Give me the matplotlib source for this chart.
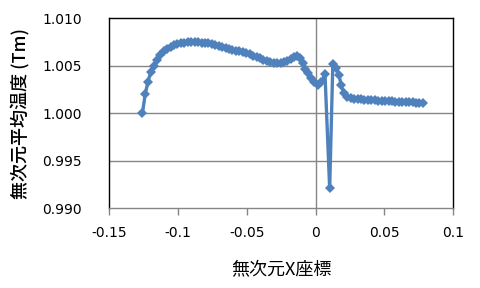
import matplotlib
matplotlib.use("Agg")
import matplotlib.pyplot as plt

x_vals = [-0.1260, -0.1240, -0.1220, -0.1200, -0.1178, -0.1155, -0.1130, -0.1105,
          -0.1080, -0.1055, -0.1030, -0.1005, -0.0980, -0.0955, -0.0930, -0.0905,
          -0.0880, -0.0855, -0.0830, -0.0805, -0.0780, -0.0755, -0.0730, -0.0705,
          -0.0680, -0.0655, -0.0630, -0.0605, -0.0580, -0.0555, -0.0530, -0.0505,
          -0.0480, -0.0455, -0.0430, -0.0405, -0.0380, -0.0355, -0.0330, -0.0305,
          -0.0280, -0.0255, -0.0230, -0.0205, -0.0180, -0.0155, -0.0135, -0.0115,
          -0.0095, -0.0075, -0.0055, -0.0035, -0.0012, 0.0015, 0.0040, 0.0068,
          0.0102, 0.0125, 0.0150, 0.0170, 0.0185, 0.0205, 0.0230, 0.0255,
          0.0280, 0.0305, 0.0330, 0.0355, 0.0380, 0.0405, 0.0430, 0.0455,
          0.0480, 0.0505, 0.0530, 0.0555, 0.0580, 0.0605, 0.0630, 0.0655,
          0.0680, 0.0705, 0.0730, 0.0755, 0.0780]
y_vals = [1.0000, 1.0020, 1.0033, 1.0043, 1.0050, 1.0056, 1.0061, 1.0065,
          1.0068, 1.0070, 1.0072, 1.0073, 1.0074, 1.0074, 1.0075, 1.0075,
          1.0075, 1.0075, 1.0074, 1.0074, 1.0074, 1.0073, 1.0072, 1.0071,
          1.0070, 1.0069, 1.0068, 1.0067, 1.0066, 1.0065, 1.0064, 1.0063,
          1.0062, 1.0060, 1.0059, 1.0058, 1.0056, 1.0055, 1.0054, 1.0053,
          1.0053, 1.0053, 1.0054, 1.0055, 1.0057, 1.0059, 1.0060, 1.0058,
          1.0053, 1.0047, 1.0042, 1.0037, 1.0033, 1.0030, 1.0033, 1.0041,
          0.9921, 1.0052, 1.0048, 1.0040, 1.0030, 1.0021, 1.0017, 1.0016,
          1.0015, 1.0015, 1.0015, 1.0014, 1.0014, 1.0014, 1.0014, 1.0013,
          1.0013, 1.0013, 1.0013, 1.0013, 1.0012, 1.0012, 1.0012, 1.0012,
          1.0012, 1.0012, 1.0011, 1.0011, 1.0011]

x_ticks = [-0.15, -0.1, -0.05, 0, 0.05, 0.1]
x_tick_labels = ["-0.15", "-0.1", "-0.05", "0", "0.05", "0.1"]
y_ticks = [0.990, 0.995, 1.000, 1.005, 1.010]
y_tick_labels = ["0.990", "0.995", "1.000", "1.005", "1.010"]

plt.rcParams['font.family'] = ['Noto Sans CJK JP', 'DejaVu Sans']

fig = plt.figure(figsize=(4.8, 2.88), dpi=100)
ax = fig.add_axes([0.228, 0.2767, 0.716, 0.66])
ax.set_xlim(-0.15, 0.1)
ax.set_ylim(0.990, 1.010)

grid_color = "#868686"
for yv in y_ticks[1:-1]:
    ax.axhline(yv, color=grid_color, lw=1.0, zorder=1)
ax.axvline(0, color=grid_color, lw=1.0, zorder=1)

ax.plot(x_vals, y_vals, color="#4F81BD", lw=2.4, marker="D", markersize=5.5,
        markeredgewidth=0, zorder=3)

ax.set_xticks(x_ticks)
ax.set_xticklabels(x_tick_labels, family="DejaVu Sans", fontsize=10)
ax.set_yticks(y_ticks)
ax.set_yticklabels(y_tick_labels, family="DejaVu Sans", fontsize=10)
ax.tick_params(axis="x", direction="out", length=5, width=1, color=grid_color, pad=8)
ax.tick_params(axis="y", length=0, pad=20)

for s in ["left", "top", "right"]:
    ax.spines[s].set_color("black")
    ax.spines[s].set_linewidth(1.0)
ax.spines["bottom"].set_color(grid_color)
ax.spines["bottom"].set_linewidth(1.0)

ax.set_xlabel("無次元X座標", fontsize=13, labelpad=14)
ax.set_ylabel("無次元平均温度 (Tm)", fontsize=13, labelpad=8, fontweight="medium")

fig.savefig("out.png", dpi=100)
